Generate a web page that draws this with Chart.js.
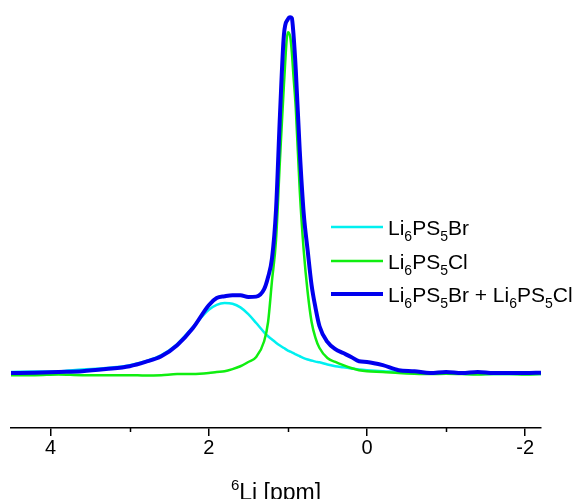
<!DOCTYPE html>
<html>
<head>
<meta charset="utf-8">
<script src="https://cdn.jsdelivr.net/npm/chart.js@4/dist/chart.umd.min.js"></script>
<style>
    html, body { margin: 0; padding: 0; background: #fff; }
    #wrap { width: 580px; height: 499px; }
</style>
</head>
<body>
<div id="wrap"><canvas id="c"></canvas></div>
<script>
(function () {
    'use strict';

    // chemical shift, ppm (axis runs high -> low)
    var PPM = [4.5, 4.2, 3.9, 3.6, 3.3, 3.0, 2.8, 2.6, 2.4, 2.2, 2.0, 1.9, 1.8, 1.7, 1.6, 1.5, 1.4, 1.3, 1.25, 1.2,
        1.15, 1.1, 1.05, 1.0, 0.97, 0.95, 0.93, 0.9, 0.85, 0.8, 0.75, 0.7, 0.65, 0.6, 0.5, 0.4, 0.3, 0.2, 0.1, 0.0,
        -0.2, -0.4, -0.6, -0.8, -1.0, -1.2, -1.4, -1.6, -1.8, -2.0, -2.2];

    // normalised intensity
    var BR = [0.006, 0.007, 0.008, 0.013, 0.017, 0.025, 0.036, 0.053, 0.084, 0.132, 0.180, 0.194, 0.199, 0.197, 0.187,
        0.168, 0.143, 0.117, 0.106, 0.097, 0.088, 0.080, 0.073, 0.066, 0.063, 0.061, 0.059, 0.055, 0.050, 0.045,
        0.041, 0.038, 0.035, 0.033, 0.027, 0.022, 0.019, 0.016, 0.013, 0.011, 0.008, 0.006, 0.003, 0.002, 0.001,
        0.001, 0.0, 0.0, 0.0, 0.0, 0.0];
    var CL = [-0.003, -0.003, -0.001, -0.003, -0.003, -0.003, -0.004, -0.003, 0.0, 0.0, 0.003, 0.006, 0.008, 0.014,
        0.022, 0.034, 0.048, 0.092, 0.146, 0.263, 0.375, 0.60, 0.81, 0.958, 0.945, 0.902, 0.838, 0.745, 0.515, 0.347,
        0.230, 0.146, 0.101, 0.073, 0.045, 0.034, 0.025, 0.017, 0.011, 0.008, 0.006, 0.003, 0.001, 0.0, 0.001, 0.0,
        -0.001, 0.0, 0.0, -0.001, 0.0];
    var MIX = [0.003, 0.004, 0.006, 0.008, 0.014, 0.022, 0.034, 0.050, 0.081, 0.129, 0.193, 0.213, 0.218, 0.221, 0.221,
        0.216, 0.217, 0.238, 0.272, 0.325, 0.459, 0.725, 0.950, 0.994, 1.000, 0.997, 0.955, 0.852, 0.627, 0.451,
        0.347, 0.249, 0.185, 0.134, 0.090, 0.070, 0.059, 0.048, 0.036, 0.034, 0.025, 0.011, 0.008, 0.003, 0.006,
        0.003, 0.006, 0.003, 0.003, 0.003, 0.004];

    var MAJOR_TICKS = [4, 2, 0, -2];
    var MINOR_TICKS = [3, 1, -1];

    // legend entries: [text, isSubscript] runs
    var LEGEND = [
        { color: '#00F0F0', width: 2.5, runs: [['Li', 0], ['6', 1], ['PS', 0], ['5', 1], ['Br', 0]] },
        { color: '#10EE10', width: 2.5, runs: [['Li', 0], ['6', 1], ['PS', 0], ['5', 1], ['Cl', 0]] },
        { color: '#0000EE', width: 4, runs: [['Li', 0], ['6', 1], ['PS', 0], ['5', 1], ['Br + Li', 0], ['6', 1],
            ['PS', 0], ['5', 1], ['Cl', 0]] }
    ];

    var FONT = '"Liberation Sans", Arial, sans-serif';

    function toPoints(ys) {
        var out = [];
        for (var i = 0; i < PPM.length; i++) {
            out.push({ x: PPM[i], y: ys[i] });
        }
        return out;
    }

    function series(data, color, width) {
        return {
            data: toPoints(data),
            borderColor: color,
            borderWidth: width,
            pointRadius: 0,
            fill: false,
            cubicInterpolationMode: 'monotone',
            clip: false
        };
    }

    var decorations = {
        id: 'decorations',
        afterDraw: function (chart) {
            var ctx = chart.ctx;
            var xs = chart.scales.x;
            var axisY = chart.chartArea.bottom;
            ctx.save();

            // minor ticks
            ctx.strokeStyle = '#000';
            ctx.lineWidth = 1.5;
            for (var i = 0; i < MINOR_TICKS.length; i++) {
                var px = Math.round(xs.getPixelForValue(MINOR_TICKS[i])) + 0.5;
                ctx.beginPath();
                ctx.moveTo(px, axisY);
                ctx.lineTo(px, axisY + 4);
                ctx.stroke();
            }

            // axis title with superscript
            ctx.fillStyle = '#000';
            ctx.textBaseline = 'alphabetic';
            ctx.font = '15px ' + FONT;
            var supW = ctx.measureText('6').width;
            ctx.font = '23px ' + FONT;
            var mainW = ctx.measureText('Li [ppm]').width;
            var cx = (chart.chartArea.left + chart.chartArea.right) / 2;
            var tx = cx - (supW + mainW) / 2;
            ctx.font = '15px ' + FONT;
            ctx.fillText('6', tx, 490);
            ctx.font = '23px ' + FONT;
            ctx.fillText('Li [ppm]', tx + supW, 500);

            // legend
            var lineX0 = 331, lineX1 = 383, textX = 388;
            var rowY = [227, 261, 294];
            for (var r = 0; r < LEGEND.length; r++) {
                var e = LEGEND[r];
                var y = rowY[r];
                ctx.strokeStyle = e.color;
                ctx.lineWidth = e.width;
                ctx.beginPath();
                ctx.moveTo(lineX0, y);
                ctx.lineTo(lineX1, y);
                ctx.stroke();

                var x = textX;
                for (var k = 0; k < e.runs.length; k++) {
                    var run = e.runs[k];
                    if (run[1]) {
                        ctx.font = '14px ' + FONT;
                        ctx.fillText(run[0], x, y + 14);
                    } else {
                        ctx.font = '21px ' + FONT;
                        ctx.fillText(run[0], x, y + 8);
                    }
                    x += ctx.measureText(run[0]).width;
                }
            }
            ctx.restore();
        }
    };

    new Chart(document.getElementById('c'), {
        type: 'line',
        data: {
            datasets: [
                series(MIX, '#0000EE', 4),
                series(CL, '#10EE10', 2.5),
                series(BR, '#00F0F0', 2.5)
            ]
        },
        options: {
            responsive: true,
            maintainAspectRatio: false,
            animation: false,
            layout: { padding: { left: 11, right: 39, top: 0, bottom: 0 } },
            plugins: {
                legend: { display: false },
                tooltip: { enabled: false }
            },
            scales: {
                x: {
                    type: 'linear',
                    min: -2.2,
                    max: 4.5,
                    reverse: true,
                    afterBuildTicks: function (scale) {
                        scale.ticks = MAJOR_TICKS.map(function (v) { return { value: v }; });
                    },
                    afterFit: function (scale) {
                        scale.height = 71;
                    },
                    border: { display: true, color: '#000', width: 1.5 },
                    grid: {
                        drawOnChartArea: false,
                        drawTicks: true,
                        tickLength: 8,
                        color: '#000',
                        lineWidth: 1.5
                    },
                    ticks: {
                        color: '#000',
                        font: { family: FONT, size: 20 },
                        padding: 0,
                        maxRotation: 0,
                        callback: function (v) { return String(v); }
                    }
                },
                y: {
                    display: false,
                    min: -0.151,
                    max: 1.048
                }
            }
        },
        plugins: [decorations]
    });
})();
</script>
</body>
</html>
